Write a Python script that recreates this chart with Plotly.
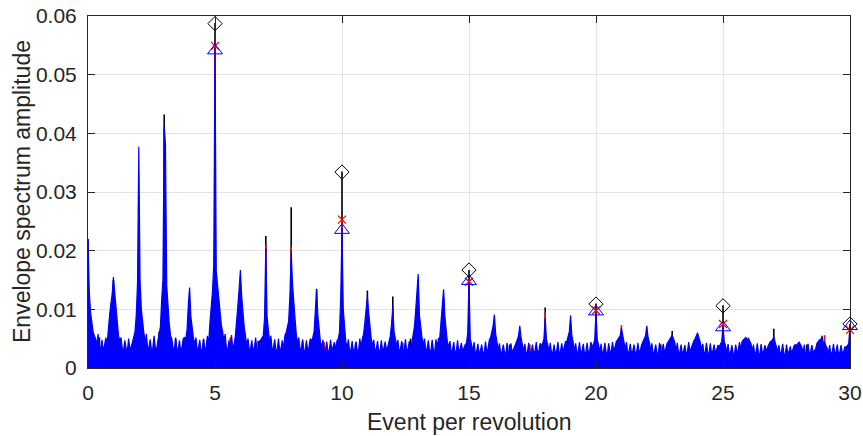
import numpy as np
import plotly.graph_objects as go

# ---- data ----
# Blue spectrum upper envelope, sampled every 0.05 event/rev from 0 to 30 (units of 1e-4)
blue_amp_e4 = [
    220,130,95,75,62,55,50,40,58,36,33,48,30,38,52,40,70,90,110,125,
    155,128,100,80,56,46,52,33,30,47,34,29,50,32,36,44,54,62,90,145,
    377,150,100,75,60,45,58,32,36,49,30,33,55,35,31,46,58,70,115,150,
    413,381,140,100,75,55,50,34,31,52,33,30,47,28,36,50,52,50,65,108,
    137,88,65,52,40,52,31,34,48,28,33,50,31,36,55,42,77,100,130,175,
    545,165,140,112,90,73,62,46,58,34,31,47,30,56,34,40,54,75,106,135,
    167,123,90,70,55,38,50,30,33,47,29,35,52,32,30,46,48,52,55,85,
    205,88,60,44,55,31,34,49,29,31,50,28,34,47,32,55,60,70,80,125,
    200,145,105,85,58,42,52,31,34,49,28,31,47,29,36,50,46,52,62,100,
    133,90,65,45,36,48,28,32,45,27,30,48,29,35,44,31,46,50,60,120,
    240,100,65,45,34,49,29,31,46,27,33,45,30,28,50,36,50,58,78,100,
    122,95,68,50,38,48,29,33,46,27,30,47,28,34,45,31,36,45,54,75,
    105,62,48,38,48,29,32,46,27,31,49,28,33,46,30,44,50,70,98,125,
    160,90,68,52,40,50,29,33,47,27,30,48,30,28,49,36,50,52,80,105,
    134,88,60,44,36,46,27,31,44,26,29,47,27,33,43,29,34,40,42,60,
    148,50,40,29,44,25,28,41,24,30,40,25,27,45,28,33,48,52,62,72,
    91,58,45,31,42,24,28,40,26,24,43,27,29,42,26,31,38,42,48,55,
    72,52,42,29,41,24,27,43,25,28,40,24,30,44,26,29,42,38,42,50,
    85,48,40,28,43,25,27,40,24,29,44,25,28,42,27,35,45,45,52,62,
    90,55,44,30,42,25,28,44,24,30,41,24,27,43,25,30,44,37,40,48,
    97,48,40,27,41,24,29,43,26,24,42,27,29,44,28,36,45,48,52,55,
    68,55,46,33,44,25,28,41,24,30,40,24,27,43,26,31,40,45,50,55,
    72,52,44,31,42,24,28,40,26,24,43,27,30,41,25,35,42,45,48,52,
    56,50,44,29,43,25,27,40,24,29,39,24,28,44,27,34,42,46,50,54,
    60,52,45,31,41,24,28,43,26,24,42,25,29,40,26,31,39,36,40,45,
    71,45,38,26,41,23,27,39,25,24,40,27,30,44,31,45,48,50,52,48,
    50,46,42,29,40,24,27,42,25,23,41,26,28,39,27,35,40,44,46,48,
    53,45,40,28,39,24,27,41,24,23,40,26,28,37,25,32,38,40,38,42,
    44,40,36,26,40,23,27,41,24,28,39,26,30,33,42,46,48,48,55,42,
    45,38,34,25,39,23,27,41,24,28,40,23,27,39,25,28,36,36,38,42,
    72,
]
blue_step = 0.05

# Black spectral lines (event/rev, amplitude)
black_x = [0, 0.45, 1, 2, 2.8, 3, 3.45, 3.75, 4.55, 5, 6.7, 7, 7.9, 8, 8.45, 9, 10,
           10.55, 11, 12, 12.7, 13, 14, 15, 16.6, 18, 19.8, 20, 22.55, 23, 25, 27, 28.3, 30]
black_y = [0.0220, 0.0052, 0.0150, 0.0160, 0.0062, 0.0432, 0.0050, 0.0045, 0.0048, 0.0588,
           0.0046, 0.0225, 0.0048, 0.0274, 0.0045, 0.0135, 0.0335, 0.0044, 0.0132, 0.0122,
           0.0050, 0.0150, 0.0120, 0.0167, 0.0040, 0.0103, 0.0040, 0.0110, 0.0040, 0.0063,
           0.0107, 0.0067, 0.0040, 0.0075]

# Red spectral lines (event/rev, amplitude)
red_x = [3, 5, 5.6, 7, 8, 9.3, 10, 12.4, 15, 17.4, 18, 20, 21, 24.2, 25, 26, 29, 30]
red_y = [0.0411, 0.0549, 0.0052, 0.0210, 0.0207, 0.0044, 0.0253, 0.0043, 0.0148, 0.0040,
         0.0095, 0.0098, 0.0073, 0.0040, 0.0075, 0.0052, 0.0056, 0.0066]

# Harmonic markers
harm_x = [5, 10, 15, 20, 25, 30]
black_mark = [0.0587, 0.0334, 0.0167, 0.0109, 0.0106, 0.0075]
red_mark = [0.0549, 0.0253, 0.0147, 0.0098, 0.0075, 0.0065]
blue_mark = [0.0541, 0.0235, 0.0148, 0.0096, 0.0069, 0.0071]

x_ticks = [0, 5, 10, 15, 20, 25, 30]
y_ticks = [0, 0.01, 0.02, 0.03, 0.04, 0.05, 0.06]
y_ticktext = ["0", "0.01", "0.02", "0.03", "0.04", "0.05", "0.06"]

# ---- build ----
blue_x = np.arange(len(blue_amp_e4)) * blue_step
blue_y = np.array(blue_amp_e4) * 1e-4


def stems(xs, ys):
    sx, sy = [], []
    for x, y in zip(xs, ys):
        sx += [x, x, None]
        sy += [0, y, None]
    return sx, sy


fig = go.Figure()

bx, by = stems(black_x, black_y)
fig.add_trace(go.Scatter(x=bx, y=by, mode="lines", line=dict(color="#000000", width=1.6),
                         hoverinfo="skip"))
rx, ry = stems(red_x, red_y)
fig.add_trace(go.Scatter(x=rx, y=ry, mode="lines", line=dict(color="#ff0000", width=1.6),
                         hoverinfo="skip"))
fig.add_trace(go.Scatter(x=blue_x, y=blue_y, mode="lines", fill="tozeroy",
                         fillcolor="#0000ff", line=dict(color="#0000ff", width=1.2)))

fig.add_trace(go.Scatter(x=harm_x, y=black_mark, mode="markers", cliponaxis=False,
                         marker=dict(symbol="diamond-open", size=11, color="#000000",
                                     line=dict(width=1))))
fig.add_trace(go.Scatter(x=harm_x, y=red_mark, mode="markers", cliponaxis=False,
                         marker=dict(symbol="x-thin-open", size=8, color="#ff0000",
                                     line=dict(width=1.2, color="#ff0000"))))
fig.add_trace(go.Scatter(x=harm_x, y=blue_mark, mode="markers", cliponaxis=False,
                         marker=dict(symbol="triangle-up-open", size=13, color="#0000ff",
                                     line=dict(width=1))))

axis_common = dict(
    ticks="inside", ticklen=7, tickcolor="#262626", tickwidth=1,
    showline=True, linecolor="#262626", linewidth=1, mirror="ticks",
    showgrid=True, gridcolor="#e3e3e3", gridwidth=1, zeroline=False,
    automargin=False,
    tickfont=dict(size=21, color="#262626"),
)

fig.update_layout(
    template="none",
    width=863, height=436,
    margin=dict(l=88, r=13, t=16, b=68),
    plot_bgcolor="white", paper_bgcolor="white",
    showlegend=False,
    font=dict(family="Liberation Sans, Arial, Helvetica, sans-serif", size=21, color="#262626"),
    xaxis=dict(range=[0, 30], tickvals=x_ticks, ticklabelstandoff=6, **axis_common),
    yaxis=dict(range=[0, 0.06], tickvals=y_ticks, ticktext=y_ticktext,
               ticklabelstandoff=6, **axis_common),
    annotations=[
        dict(text="Event per revolution", xref="paper", yref="paper", x=0.5, y=0,
             xanchor="center", yanchor="middle", yshift=-54, showarrow=False,
             font=dict(size=23, color="#262626")),
        dict(text="Envelope spectrum amplitude", xref="paper", yref="paper", x=0, y=0.5,
             xanchor="center", yanchor="middle", xshift=-66, textangle=-90,
             showarrow=False, font=dict(size=23, color="#262626")),
    ],
)

fig.write_html("out.html")
